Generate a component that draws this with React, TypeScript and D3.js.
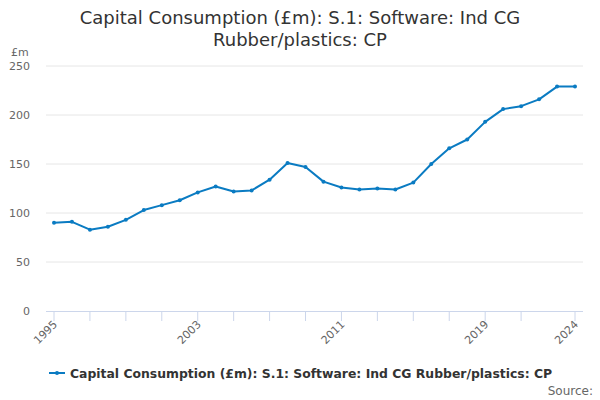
import { useMemo } from "react";
import * as d3 from "d3";

const years = [
  1995, 1996, 1997, 1998, 1999, 2000, 2001, 2002, 2003, 2004, 2005, 2006, 2007, 2008, 2009,
  2010, 2011, 2012, 2013, 2014, 2015, 2016, 2017, 2018, 2019, 2020, 2021, 2022, 2023, 2024,
];
const values = [
  90, 91, 83, 86, 93, 103, 108, 113, 121, 127, 122, 123, 134, 151, 147,
  132, 126, 124, 125, 124, 131, 150, 166, 175, 193, 206, 209, 216, 229, 229,
];
const yTicks = [0, 50, 100, 150, 200, 250];
const xTickYears = [1995, 1997, 1999, 2001, 2003, 2005, 2007, 2009, 2011, 2013, 2015, 2017, 2019, 2021, 2024];
const xLabelYears = [1995, 2003, 2011, 2019, 2024];

const titleLines = ["Capital Consumption (£m): S.1: Software: Ind CG", "Rubber/plastics: CP"];
const seriesName = "Capital Consumption (£m): S.1: Software: Ind CG Rubber/plastics: CP";

const WIDTH = 600;
const HEIGHT = 400;
const LEFT = 46;
const RIGHT = 583;
const TOP = 66;
const BOTTOM = 311;
const LINE_COLOR = "#0a7bc2";
const FONT = "'DejaVu Sans', sans-serif";

export default function App() {
  const x = useMemo(() => d3.scaleLinear().domain([1995, 2024]).range([54, 575]), []);
  const y = useMemo(() => d3.scaleLinear().domain([0, 250]).range([BOTTOM, TOP]), []);

  const path = useMemo(() => {
    const line = d3
      .line<number>()
      .x((_, i) => x(years[i]))
      .y((d) => y(d));
    return line(values) ?? "";
  }, [x, y]);

  return (
    <svg width={WIDTH} height={HEIGHT} style={{ position: "absolute", left: 0, top: 0, fontFamily: FONT }}>
      <rect width={WIDTH} height={HEIGHT} fill="#fff" />
      {titleLines.map((t, i) => (
        <text key={i} x={300} y={24 + i * 22} textAnchor="middle" fontSize={18} fill="#333">
          {t}
        </text>
      ))}

      <text x={11} y={56} fontSize={11} fill="#666">£m</text>

      {yTicks.map((t) => (
        <g key={t}>
          {t > 0 && <line x1={LEFT} x2={RIGHT} y1={y(t)} y2={y(t)} stroke="#e6e6e6" strokeWidth={1} />}
          <text x={30} y={y(t) + 4} textAnchor="end" fontSize={11} fill="#666">
            {t}
          </text>
        </g>
      ))}

      <line x1={LEFT} x2={RIGHT} y1={BOTTOM + 0.5} y2={BOTTOM + 0.5} stroke="#ccd6eb" strokeWidth={1} />
      {xTickYears.map((yr) => (
        <line key={yr} x1={x(yr)} x2={x(yr)} y1={BOTTOM} y2={BOTTOM + 10} stroke="#ccd6eb" strokeWidth={1} />
      ))}
      {xLabelYears.map((yr) => (
        <text
          key={yr}
          transform={`translate(${x(yr) + 4},${BOTTOM + 14}) rotate(-45)`}
          textAnchor="end"
          fontSize={11}
          fill="#666"
        >
          {yr}
        </text>
      ))}

      <path d={path} fill="none" stroke={LINE_COLOR} strokeWidth={2} strokeLinejoin="round" />
      {values.map((v, i) => (
        <circle key={i} cx={x(years[i])} cy={y(v)} r={2} fill={LINE_COLOR} />
      ))}

      <line x1={49} x2={65} y1={373} y2={373} stroke={LINE_COLOR} strokeWidth={2} />
      <circle cx={57} cy={373} r={2} fill={LINE_COLOR} />
      <text x={70} y={378} fontSize={12.4} fontWeight="bold" fill="#333">
        {seriesName}
      </text>

      <text x={593} y={395} textAnchor="end" fontSize={12} fill="#666">Source:</text>
    </svg>
  );
}
